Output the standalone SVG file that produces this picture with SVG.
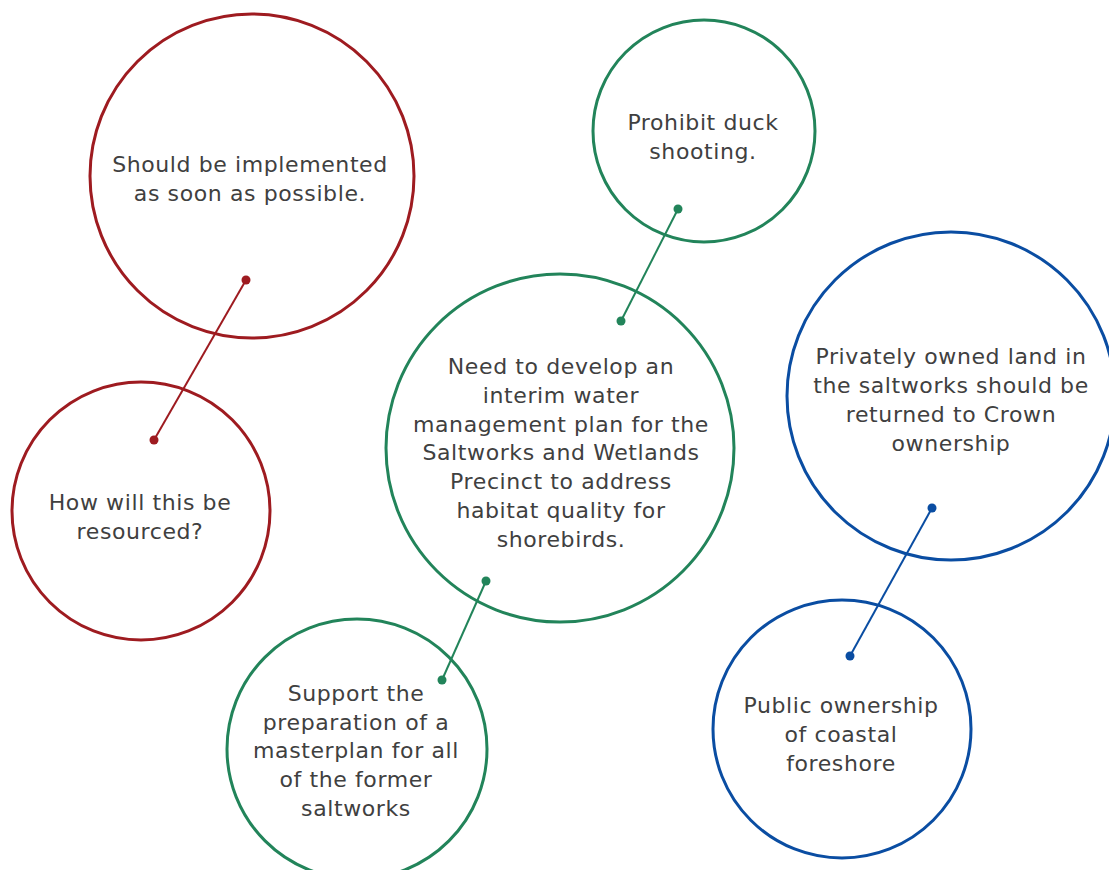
<svg xmlns="http://www.w3.org/2000/svg" width="1109" height="870" viewBox="0 0 1109 870">
<style>
.n{fill:none;stroke-width:3}
.red{stroke:#9e1b20}
.green{stroke:#22845a}
.blue{stroke:#0a4da2}
.t{font-family:"DejaVu Sans",sans-serif;font-size:22px;letter-spacing:0.6px;fill:#404040;text-anchor:middle}
.c{stroke-width:2;fill:none}
.dr{fill:#9e1b20}.dg{fill:#22845a}.db{fill:#0a4da2}
</style>
<rect width="1109" height="870" fill="#ffffff"/>
<g id="connectors">
<line class="c red" x1="246" y1="280" x2="154" y2="440"/>
<circle class="dr" cx="246" cy="280" r="4.5"/><circle class="dr" cx="154" cy="440" r="4.5"/>
<line class="c green" x1="678" y1="209" x2="621" y2="321"/>
<circle class="dg" cx="678" cy="209" r="4.5"/><circle class="dg" cx="621" cy="321" r="4.5"/>
<line class="c green" x1="486" y1="581" x2="442" y2="680"/>
<circle class="dg" cx="486" cy="581" r="4.5"/><circle class="dg" cx="442" cy="680" r="4.5"/>
<line class="c blue" x1="932" y1="508" x2="850" y2="656"/>
<circle class="db" cx="932" cy="508" r="4.5"/><circle class="db" cx="850" cy="656" r="4.5"/>
</g>
<g id="node-implemented">
<circle class="n red" cx="252" cy="176" r="162"/>
<text class="t"><tspan x="250" y="172">Should be implemented</tspan><tspan x="250" y="201">as soon as possible.</tspan></text>
</g>
<g id="node-resourced">
<circle class="n red" cx="141" cy="511" r="129"/>
<text class="t"><tspan x="140" y="510">How will this be</tspan><tspan x="140" y="539">resourced?</tspan></text>
</g>
<g id="node-duck">
<circle class="n green" cx="704" cy="131" r="111"/>
<text class="t"><tspan x="703" y="130">Prohibit duck</tspan><tspan x="703" y="159">shooting.</tspan></text>
</g>
<g id="node-water-plan">
<circle class="n green" cx="560" cy="448" r="174"/>
<text class="t"><tspan x="561" y="374">Need to develop an</tspan><tspan x="561" y="403">interim water</tspan><tspan x="561" y="432">management plan for the</tspan><tspan x="561" y="460">Saltworks and Wetlands</tspan><tspan x="561" y="489">Precinct to address</tspan><tspan x="561" y="518">habitat quality for</tspan><tspan x="561" y="547">shorebirds.</tspan></text>
</g>
<g id="node-masterplan">
<circle class="n green" cx="357" cy="749" r="130"/>
<text class="t"><tspan x="356" y="701">Support the</tspan><tspan x="356" y="730">preparation of a</tspan><tspan x="356" y="758">masterplan for all</tspan><tspan x="356" y="787">of the former</tspan><tspan x="356" y="816">saltworks</tspan></text>
</g>
<g id="node-crown">
<circle class="n blue" cx="951" cy="396" r="164"/>
<text class="t"><tspan x="951" y="364">Privately owned land in</tspan><tspan x="951" y="393">the saltworks should be</tspan><tspan x="951" y="422">returned to Crown</tspan><tspan x="951" y="451">ownership</tspan></text>
</g>
<g id="node-public">
<circle class="n blue" cx="842" cy="729" r="129"/>
<text class="t"><tspan x="841" y="713">Public ownership</tspan><tspan x="841" y="742">of coastal</tspan><tspan x="841" y="771">foreshore</tspan></text>
</g>
</svg>
